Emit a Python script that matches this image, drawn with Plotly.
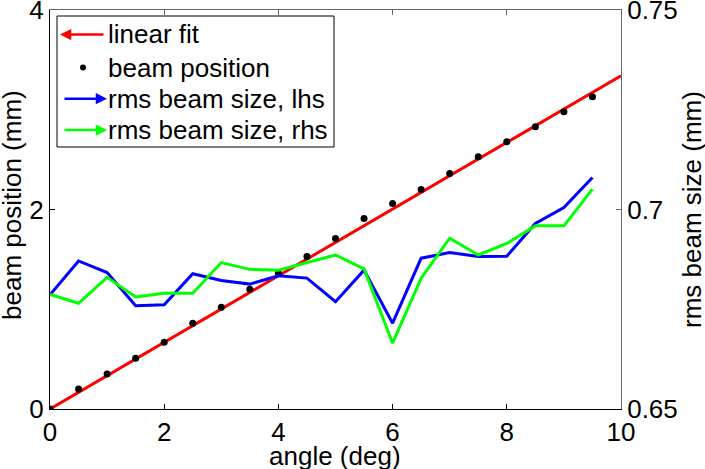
import plotly.graph_objects as go

# data
angle = [0, 0.5, 1, 1.5, 2, 2.5, 3, 3.5, 4, 4.5,
         5, 5.5, 6, 6.5, 7, 7.5, 8, 8.5, 9, 9.5]
beam_position = [0.0, 0.20, 0.35, 0.51, 0.67, 0.86, 1.02, 1.20, 1.36, 1.53,
                 1.71, 1.91, 2.06, 2.20, 2.36, 2.53, 2.68, 2.83, 2.98, 3.13]
fit_angle = [0, 10]
fit_position = [0.0, 3.34]
rms_lhs = [0.6786, 0.6871, 0.6842, 0.6759, 0.6761, 0.6839, 0.6822, 0.6813, 0.6834, 0.6828,
           0.6769, 0.6848, 0.6715, 0.6878, 0.6892, 0.6882, 0.6883, 0.6965, 0.7005, 0.7080]
rms_rhs = [0.6787, 0.6765, 0.6830, 0.6781, 0.6790, 0.6790, 0.6867, 0.6850, 0.6848, 0.6867,
           0.6886, 0.6851, 0.6665, 0.6828, 0.6928, 0.6886, 0.6915, 0.6959, 0.6959, 0.7051]

legend_labels = ["linear fit", "beam position", "rms beam size, lhs", "rms beam size, rhs"]

W, H = 705, 469
L, R, T, B = 50, 84, 10, 60
PW, PH = W - L - R, H - T - B
FONT = "Liberation Sans, Arial, sans-serif"
FS = 26
GREY = "#666666"


def px(x):
    return (x - L) / PW


def py(y):
    return (H - B - y) / PH


fig = go.Figure()

fig.add_trace(go.Scatter(x=fit_angle, y=fit_position, mode="lines",
                         line=dict(color="#ff0000", width=3), showlegend=False))
fig.add_trace(go.Scatter(x=angle, y=beam_position, mode="markers",
                         marker=dict(color="black", size=7), showlegend=False))
# second axes pair (rms sizes on right axis)
fig.add_trace(go.Scatter(x=angle, y=rms_lhs, mode="lines", xaxis="x2", yaxis="y2",
                         line=dict(color="#0000ff", width=3), showlegend=False))
fig.add_trace(go.Scatter(x=angle, y=rms_rhs, mode="lines", xaxis="x2", yaxis="y2",
                         line=dict(color="#00ff00", width=3), showlegend=False))

# hand-built legend box with arrow symbols
fig.add_shape(type="rect", xref="paper", yref="paper",
              x0=px(57), x1=px(334), y0=py(147), y1=py(16),
              line=dict(color="black", width=1), fillcolor="white", layer="above")
rows = [34.5, 67.5, 98.7, 130]
colors = ["#ff0000", None, "#0000ff", "#00ff00"]
for i, (lab, yy, col) in enumerate(zip(legend_labels, rows, colors)):
    fig.add_annotation(x=px(106), y=py(yy), xref="paper", yref="paper",
                       text=lab, showarrow=False, xanchor="left", yanchor="middle",
                       font=dict(family=FONT, size=FS, color="black"))
    if col is None:
        fig.add_shape(type="circle", xref="paper", yref="paper",
                      x0=px(80), x1=px(86), y0=py(yy + 3), y1=py(yy - 3),
                      fillcolor="black", line=dict(color="black", width=0), layer="above")
    elif i == 0:
        fig.add_annotation(x=px(60), y=py(yy), xref="paper", yref="paper", text="",
                           showarrow=True, ax=45, ay=0, arrowhead=2, arrowsize=0.9,
                           arrowwidth=2.5, arrowcolor=col)
    else:
        fig.add_annotation(x=px(107), y=py(yy), xref="paper", yref="paper", text="",
                           showarrow=True, ax=-44, ay=0, arrowhead=2, arrowsize=0.9,
                           arrowwidth=2.5, arrowcolor=col)

# axis titles placed as annotations so the margins stay fixed
titlefont = dict(family=FONT, size=FS, color="black")
fig.add_annotation(text="angle (deg)", x=px(335), y=py(456), xref="paper", yref="paper",
                   showarrow=False, xanchor="center", yanchor="middle", font=titlefont)
fig.add_annotation(text="beam position (mm)", x=px(12), y=py(205), xref="paper",
                   yref="paper", showarrow=False, textangle=-90,
                   xanchor="center", yanchor="middle", font=titlefont)
fig.add_annotation(text="rms beam size (mm)", x=px(692), y=py(210), xref="paper",
                   yref="paper", showarrow=False, textangle=-90,
                   xanchor="center", yanchor="middle", font=titlefont)

tickfont = dict(family=FONT, size=FS, color="black")
fig.update_layout(
    width=W, height=H,
    margin=dict(l=L, r=R, t=T, b=B, autoexpand=False),
    paper_bgcolor="white", plot_bgcolor="white",
    font=dict(family=FONT, size=FS, color="black"),
    xaxis=dict(range=[0, 10], tickvals=[0, 2, 4, 6, 8, 10], ticks="inside", ticklen=5,
               tickcolor="black", showline=True, linecolor="black", linewidth=1,
               showgrid=False, zeroline=False, tickfont=tickfont, automargin=False,
               ticklabeloverflow="allow"),
    yaxis=dict(range=[0, 4], tickvals=[0, 2, 4], ticks="inside", ticklen=5,
               tickcolor="black", showline=True, linecolor="black", linewidth=1,
               showgrid=False, zeroline=False, tickfont=tickfont, automargin=False,
               ticklabeloverflow="allow"),
    xaxis2=dict(range=[0, 10], overlaying="x", side="top", anchor="y2",
                tickvals=[0, 2, 4, 6, 8, 10], ticks="inside", ticklen=5,
                tickcolor=GREY, showline=True, linecolor=GREY, linewidth=1,
                showticklabels=False, showgrid=False, zeroline=False, automargin=False),
    yaxis2=dict(range=[0.65, 0.75], overlaying="y", side="right", anchor="x2",
                tickvals=[0.65, 0.7, 0.75], ticktext=["0.65", "0.7", "0.75"],
                ticks="inside", ticklen=5, tickcolor=GREY, showline=True,
                linecolor=GREY, linewidth=1, showgrid=False, zeroline=False,
                tickfont=tickfont, automargin=False, ticklabeloverflow="allow"),
)

# drop the browser's default 8px page margin so the figure sits at the window corner
fig.write_html("out.html", config={"displayModeBar": False},
               post_script="document.body.style.margin = '0px';")
